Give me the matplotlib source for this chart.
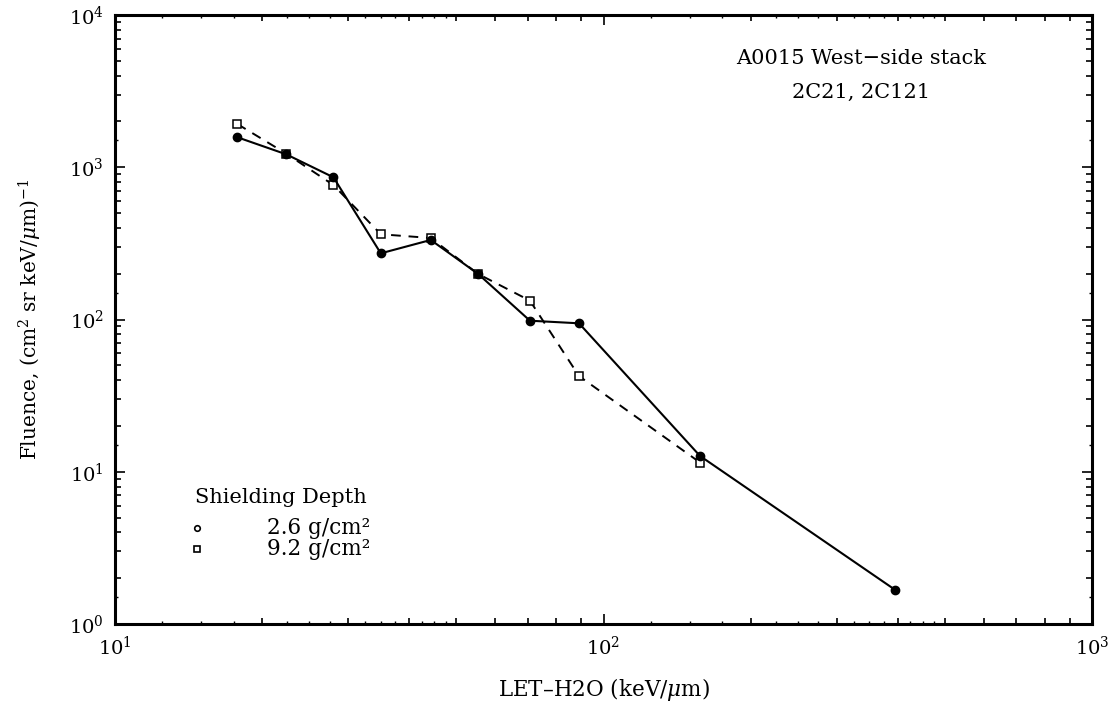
import matplotlib
matplotlib.use("Agg")
import matplotlib.pyplot as plt
from matplotlib.ticker import FixedLocator, NullFormatter
import numpy as np

plt.rcParams['font.family'] = ['DejaVu Serif']
plt.rcParams['mathtext.fontset'] = 'dejavuserif'

# Data
let_26 = [17.8, 22.4, 28.0, 35.0, 44.3, 55.4, 70.7, 89.1, 157.6, 396.0]
flu_26 = [1574, 1217, 859, 272, 333, 199, 98.2, 94.4, 12.7, 1.67]
let_92 = [17.8, 22.4, 28.0, 35.0, 44.3, 55.4, 70.7, 89.1, 157.6]
flu_92 = [1923, 1230, 764, 363, 343, 199, 133, 42.5, 11.5]

label_26 = "2.6 g/cm\u00b2"
label_92 = "9.2 g/cm\u00b2"
legend_title = "Shielding Depth"
note_1 = "A0015 West\u2212side stack"
note_2 = "2C21, 2C121"
xlabel = "LET\u2013H2O (keV/$\\mu$m)"
ylabel = "Fluence, (cm$^2$ sr keV/$\\mu$m)$^{-1}$"

x_decades = [10, 100, 1000]
y_decades = [1, 10, 100, 1000, 10000]

W, H = 1117, 703
fig = plt.figure(figsize=(W / 100, H / 100), dpi=100)
pos = [115 / W, 1 - 624 / H, (1092 - 115) / W, (624 - 15) / H]
ax = fig.add_axes(pos)

ax.plot(let_26, flu_26, color='black', lw=1.5, marker='o', ms=6,
        mfc='black', mec='black', zorder=3)
ax.plot(let_92, flu_92, color='black', lw=1.4, ls=(0, (5, 4)), marker='s',
        ms=5.5, mfc='white', mec='black', mew=1.1, zorder=2)

ax.set_xscale('log')
ax.set_yscale('log')
ax.set_xlim(10, 1000)
ax.set_ylim(1, 10000)

ax.xaxis.set_major_locator(FixedLocator(x_decades))
ax.yaxis.set_major_locator(FixedLocator(y_decades))
ax.set_xticklabels([r'$\mathregular{10^{%d}}$' % int(np.log10(v)) for v in x_decades])
ax.set_yticklabels([r'$\mathregular{10^{%d}}$' % int(np.log10(v)) for v in y_decades])

int_subs = [2, 3, 4, 5, 6, 7, 8, 9]
xminor = [d * s for d in [10, 100] for s in int_subs]
yminor = [d * s for d in [1, 10, 100, 1000] for s in int_subs]
ax.xaxis.set_minor_locator(FixedLocator(xminor))
ax.yaxis.set_minor_locator(FixedLocator(yminor))
ax.xaxis.set_minor_formatter(NullFormatter())
ax.yaxis.set_minor_formatter(NullFormatter())

ax.tick_params(which='both', direction='in', top=True, right=True, width=1.2,
               labelsize=14)
ax.tick_params(which='major', length=7, pad=8)
ax.tick_params(which='minor', length=4.5)
for s in ax.spines.values():
    s.set_linewidth(2.2)

# fine ticks overlay
axf = fig.add_axes(pos, frameon=False)
axf.set_xscale('log'); axf.set_yscale('log')
axf.set_xlim(10, 1000); axf.set_ylim(1, 10000)
fine_subs = [1.25, 1.5, 1.75, 2.25, 2.5, 2.75, 3.25, 3.5, 3.75, 4.25, 4.5, 4.75]
xfine = [d * s for d in [10, 100] for s in fine_subs]
yfine = [d * s for d in [1, 10, 100, 1000] for s in [1.5]]
axf.xaxis.set_major_locator(FixedLocator(xfine))
axf.yaxis.set_major_locator(FixedLocator(yfine))
axf.xaxis.set_minor_locator(FixedLocator([]))
axf.yaxis.set_minor_locator(FixedLocator([]))
axf.tick_params(which='both', direction='in', top=True, right=True, length=2.5,
                width=1.0, labelbottom=False, labelleft=False)
axf.patch.set_visible(False)

ax.set_xlabel(xlabel, fontsize=15.5)
ax.set_ylabel(ylabel, fontsize=14.5)
ax.xaxis.set_label_coords(0.5, -0.0854)
ax.yaxis.set_label_coords(-0.0727, 0.5)

ax.text(0.7636, 0.929, note_1, transform=ax.transAxes, ha='center', va='center', fontsize=15)
ax.text(0.7636, 0.8736, note_2, transform=ax.transAxes, ha='center', va='center', fontsize=15)

ax.text(0.0819, 0.2069, legend_title, transform=ax.transAxes, ha='left', va='center', fontsize=15)
ax.plot([0.0836], [0.1576], transform=ax.transAxes, marker='o', ms=4, mfc='white',
        mec='black', mew=1.2, ls='none', clip_on=False)
ax.plot([0.0836], [0.1232], transform=ax.transAxes, marker='s', ms=4.5, mfc='white',
        mec='black', mew=1.2, ls='none', clip_on=False)
ax.text(0.1556, 0.1576, label_26, transform=ax.transAxes, ha='left', va='center', fontsize=15.5)
ax.text(0.1556, 0.1232, label_92, transform=ax.transAxes, ha='left', va='center', fontsize=15.5)

fig.savefig('out.png', dpi=100)
